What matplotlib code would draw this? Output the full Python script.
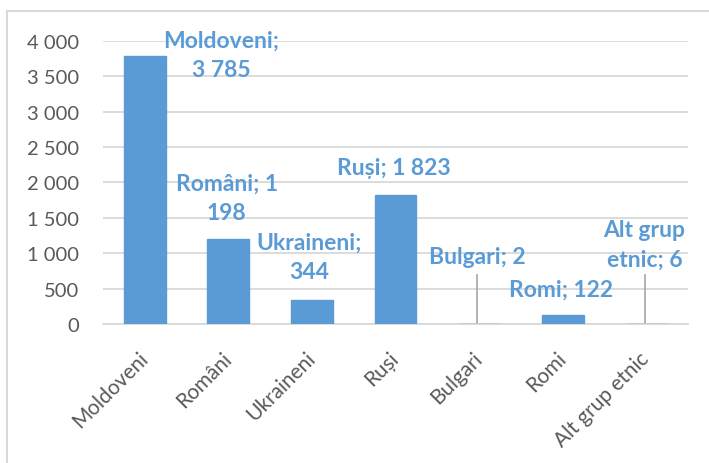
import matplotlib.pyplot as plt
from matplotlib.patches import Rectangle

# date
categorii = ['Moldoveni', 'Români', 'Ukraineni', 'Ruși', 'Bulgari', 'Romi', 'Alt grup etnic']
valori = [3785, 1198, 344, 1823, 2, 122, 6]
etichete = ['Moldoveni;\n3 785', 'Români; 1\n198', 'Ukraineni;\n344', 'Ruși; 1 823',
            'Bulgari; 2', 'Romi; 122', 'Alt grup\netnic; 6']
yticks = [0, 500, 1000, 1500, 2000, 2500, 3000, 3500, 4000]

# pozitia etichetelor (x, y) in coordonate de date
pozitii = [(0.91, 3800), (0.98, 1781), (1.97, 950), (2.98, 2205),
           (3.98, 961), (4.98, 495), (5.98, 1131)]
# linii de ghidare (x, y sus)
ghidaje = [(3.98, 693), (5.98, 693)]

albastru = '#5B9BD5'
gri = '#595959'

plt.rcParams['font.family'] = ['Lato', 'DejaVu Sans']

fig = plt.figure(figsize=(7.09, 4.64), dpi=100)
fig.patches.append(Rectangle((7 / 709, -0.1), 1.2, 1.1 - 12 / 464,
                             transform=fig.transFigure, fill=False,
                             edgecolor='#D9D9D9', linewidth=1.5))
ax = fig.add_axes([103 / 709, 1 - 325 / 464, 585 / 709, 283 / 464])

x = range(len(categorii))
ax.bar(x, valori, width=0.5, color=albastru, edgecolor=albastru, linewidth=1, zorder=3)

ax.set_xlim(-0.5, len(categorii) - 0.5)
ax.set_ylim(0, 4000)
ax.set_yticks(yticks)
ax.set_yticklabels([f'{v:,}'.replace(',', ' ') for v in yticks])
ax.yaxis.grid(True, color='#D9D9D9', linewidth=1.3, zorder=0)
ax.set_xticks(list(x))
ax.set_xticklabels(categorii, rotation=45, ha='right', va='center', rotation_mode='anchor')
for s in ['top', 'right', 'left']:
    ax.spines[s].set_visible(False)
ax.spines['bottom'].set_color('#D9D9D9')
ax.spines['bottom'].set_linewidth(1.3)
ax.tick_params(axis='y', length=0, pad=17, labelsize=14.5, labelcolor=gri)
ax.tick_params(axis='x', length=0, pad=22, labelsize=15, labelcolor=gri)

for (px, py), txt in zip(pozitii, etichete):
    ax.text(px, py, txt, ha='center', va='center', fontsize=16.5, fontweight='bold',
            color=albastru, linespacing=1.5, zorder=4)

for gx, gy in ghidaje:
    ax.plot([gx, gx], [0, gy], color='#A6A6A6', linewidth=1.2, zorder=2)

fig.savefig('out.png', dpi=100)
